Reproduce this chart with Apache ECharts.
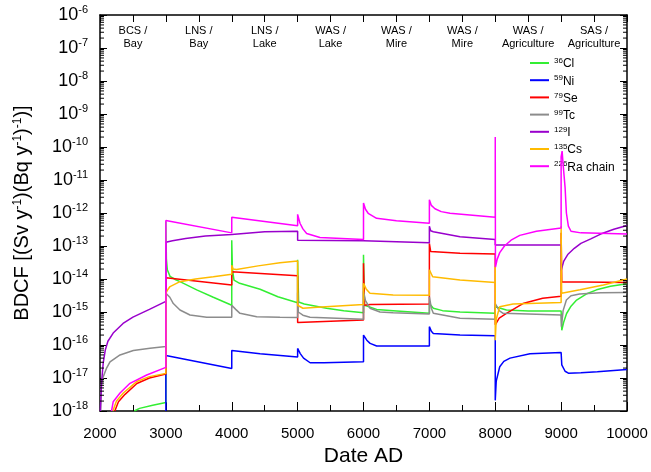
<!DOCTYPE html>
<html>
<head>
<meta charset="utf-8">
<script src="https://cdn.jsdelivr.net/npm/echarts@6/dist/echarts.min.js"></script>
<style>
  html, body { margin: 0; padding: 0; background: #fff; }
  #chart { width: 651px; height: 472px; }
</style>
</head>
<body>
<div id="chart"></div>
<script>
// Axis ranges and labels
const xMin = 2000, xMax = 10000;
const yMin = 1e-18, yMax = 1e-6;
const zoneLabels = ['BCS /\nBay', 'LNS /\nBay', 'LNS /\nLake', 'WAS /\nLake',
                    'WAS /\nMire', 'WAS /\nMire', 'WAS /\nAgriculture', 'SAS /\nAgriculture'];
const massNumbers = ['36', '59', '79', '99', '129', '135', '226'];
const elementNames = ['Cl', 'Ni', 'Se', 'Tc', 'I', 'Cs', 'Ra chain'];
const lineColors = ['#33ee33', '#0000ff', '#ff0000', '#8c8c8c', '#9900cc', '#ffbb00', '#ff00ff'];

// BDCF [(Sv/y)/(Bq/y)] against date AD, one array per nuclide
const cl36 = [
  [2520, 1.0e-18], [2600, 1.2e-18], [2800, 1.5e-18], [3000, 1.8e-18],
  [3000, 5.5e-13], [3008, 4.0e-14], [3022, 1.9e-14], [3063, 1.2e-14], [3150, 9.5e-15], [3214, 8.3e-15], [3468, 4.7e-15], [3720, 2.8e-15], [4000, 1.6e-15],
  [4000, 1.5e-13], [4010, 2.0e-14], [4034, 9.3e-15], [4120, 7.4e-15], [4430, 4.9e-15], [4700, 2.9e-15], [5000, 1.9e-15],
  [5000, 3.8e-14], [5015, 2.0e-15], [5100, 1.75e-15], [5440, 1.3e-15], [5700, 1.1e-15], [6000, 9.5e-16],
  [6000, 5.4e-14], [6015, 1.6e-15], [6040, 1.4e-15], [6200, 1.2e-15], [6450, 1.1e-15], [7000, 9.1e-16],
  [7000, 1.8e-15], [7060, 1.3e-15], [7200, 1.1e-15], [7465, 1.0e-15], [8000, 9.1e-16],
  [8000, 1.45e-15], [8170, 1.15e-15], [8500, 1.08e-15], [9000, 1.07e-15],
  [9010, 2.8e-16], [9040, 5.0e-16], [9083, 9.0e-16], [9150, 1.5e-15], [9235, 2.3e-15], [9380, 3.5e-15], [9538, 4.7e-15], [9750, 6.0e-15], [10000, 7.2e-15]
];
const ni59 = [
  [3000, 1.0e-18], [3000, 4.8e-17], [4000, 1.95e-17],
  [4000, 6.8e-17], [4430, 5.4e-17], [5000, 4.3e-17],
  [5000, 7.9e-17], [5040, 5.5e-17], [5090, 4.0e-17], [5190, 2.9e-17], [5400, 2.9e-17], [6000, 3.1e-17],
  [6000, 2.0e-16], [6050, 1.4e-16], [6100, 1.12e-16], [6200, 9.3e-17], [7000, 9.3e-17],
  [7000, 3.6e-16], [7030, 2.6e-16], [7060, 2.24e-16], [7465, 2.0e-16], [8000, 1.9e-16],
  [8000, 2.1e-18], [8015, 8.0e-18], [8068, 2.2e-17], [8130, 3.2e-17], [8224, 4.0e-17], [8527, 5.4e-17], [9000, 5.9e-17],
  [9010, 2.5e-17], [9060, 1.6e-17], [9110, 1.4e-17], [9300, 1.45e-17], [9550, 1.55e-17], [10000, 1.8e-17]
];
const se79 = [
  [2225, 1.0e-18], [2280, 1.9e-18], [2380, 3.2e-18], [2560, 6.8e-18], [2750, 1.0e-17], [3000, 1.32e-17],
  [3000, 1.1e-14], [4000, 6.6e-15],
  [4000, 1.66e-14], [5000, 1.26e-14],
  [5000, 4.8e-16], [6000, 5.75e-16],
  [6000, 3.0e-14], [6015, 1.6e-15], [6100, 1.7e-15], [7000, 1.74e-15],
  [7000, 1.2e-13], [7020, 6.8e-14], [7465, 6.0e-14], [8000, 5.75e-14],
  [8000, 4.1e-16], [8060, 6.5e-16], [8170, 9.1e-16], [8420, 1.8e-15], [8720, 2.6e-15], [9000, 3.0e-15],
  [9000, 2.5e-13], [9010, 8.3e-15], [10000, 7.8e-15]
];
const tc99 = [
  [2010, 1.0e-18], [2020, 6.0e-18], [2030, 8.0e-18], [2050, 1.1e-17], [2100, 2.0e-17], [2152, 3.1e-17], [2304, 5.0e-17], [2506, 6.8e-17], [2759, 8.0e-17], [3000, 9.0e-17],
  [3000, 3.7e-15], [3060, 2.8e-15], [3113, 1.8e-15], [3214, 1.15e-15], [3366, 8.1e-16], [3620, 6.9e-16], [4000, 6.9e-16],
  [4000, 1.6e-15], [4060, 1.2e-15], [4125, 9.1e-16], [4379, 7.2e-16], [4732, 6.9e-16], [5000, 6.8e-16],
  [5000, 3.8e-15], [5010, 1.0e-15], [5080, 8.0e-16], [5188, 6.9e-16], [6000, 6.0e-16],
  [6000, 4.2e-15], [6030, 2.2e-15], [6098, 1.3e-15], [6250, 1.0e-15], [6450, 9.5e-16], [7000, 8.7e-16],
  [7000, 2.9e-15], [7030, 1.3e-15], [7060, 9.1e-16], [7465, 6.5e-16], [8000, 6.0e-16],
  [8000, 1.8e-15], [8060, 1.1e-15], [8120, 9.1e-16], [9000, 8.1e-16],
  [9005, 3.6e-16], [9030, 1.1e-15], [9080, 2.3e-15], [9150, 3.1e-15], [9280, 3.5e-15], [9600, 3.8e-15], [10000, 3.9e-15]
];
const i129 = [
  [2005, 1.0e-18], [2025, 8.0e-18], [2050, 3.0e-17], [2080, 7.0e-17], [2120, 1.3e-16], [2200, 2.3e-16], [2350, 4.5e-16], [2500, 7.0e-16], [2750, 1.2e-15], [3000, 2.1e-15],
  [3000, 1.3e-13], [3100, 1.45e-13], [3300, 1.7e-13], [3600, 2.0e-13], [4000, 2.24e-13],
  [4500, 2.7e-13], [5000, 2.8e-13],
  [5000, 1.5e-13], [6000, 1.45e-13],
  [7000, 1.26e-13],
  [7000, 4.0e-13], [7020, 2.9e-13], [7060, 2.7e-13], [7465, 1.9e-13], [8000, 1.58e-13],
  [8000, 1.07e-13], [9000, 1.07e-13],
  [9000, 1.8e-14], [9040, 3.5e-14], [9100, 5.5e-14], [9200, 8.5e-14], [9300, 1.2e-13], [9450, 1.65e-13], [9600, 2.3e-13], [9800, 3.2e-13], [10000, 4.2e-13]
];
const cs135 = [
  [2195, 1.0e-18], [2250, 2.0e-18], [2354, 3.5e-18], [2557, 7.8e-18], [2750, 1.1e-17], [3000, 1.38e-17],
  [3000, 3.7e-15], [3030, 4.8e-15], [3063, 5.9e-15], [3214, 8.3e-15], [3450, 1.0e-14], [3720, 1.17e-14], [4000, 1.4e-14],
  [4000, 2.6e-14], [4020, 2.0e-14], [4073, 1.95e-14], [4400, 2.5e-14], [4732, 3.1e-14], [5000, 3.5e-14],
  [5000, 1.6e-15], [5080, 1.3e-15], [5300, 1.4e-15], [6000, 1.7e-15],
  [6000, 7.4e-15], [6040, 5.0e-15], [6098, 3.7e-15], [6450, 3.3e-15], [7000, 3.2e-15],
  [7000, 1.9e-14], [7050, 1.17e-14], [7465, 9.3e-15], [8000, 7.9e-15],
  [8000, 2.5e-14], [8000, 1.4e-16], [8015, 6.0e-16], [8068, 1.45e-15], [8270, 1.75e-15], [9000, 1.95e-15],
  [9000, 4.0e-13], [9008, 3.7e-15], [9287, 4.7e-15], [9641, 6.6e-15], [10000, 1.0e-14]
];
const ra226 = [
  [2175, 1.0e-18], [2200, 1.9e-18], [2304, 3.5e-18], [2455, 6.9e-18], [2709, 1.23e-17], [3000, 2.1e-17],
  [3000, 5.9e-13], [4000, 2.5e-13],
  [4000, 7.4e-13], [5000, 4.1e-13],
  [5000, 9.1e-13], [5036, 4.9e-13], [5080, 3.3e-13], [5137, 2.4e-13], [5339, 1.8e-13], [6000, 1.58e-13],
  [6000, 2.0e-12], [6030, 1.3e-12], [6071, 9.8e-13], [6199, 6.9e-13], [6500, 5.8e-13], [7000, 4.9e-13],
  [7000, 2.5e-12], [7030, 1.7e-12], [7085, 1.35e-12], [7180, 1.1e-12], [7313, 9.8e-13], [8000, 7.4e-13],
  [8000, 2.0e-10], [8003, 2.3e-14], [8030, 4.0e-14], [8068, 6.3e-14], [8140, 1.0e-13], [8240, 1.5e-13], [8372, 2.1e-13], [8625, 2.8e-13], [9000, 3.5e-13],
  [9000, 5.0e-11], [9015, 7.5e-11], [9030, 3.0e-11], [9060, 6.0e-12], [9080, 1.0e-12], [9110, 4.0e-13], [9150, 2.8e-13], [9300, 2.5e-13], [10000, 2.3e-13]
];
const nuclideData = [cl36, ni59, se79, tc99, i129, cs135, ra226];

const FONT = '"Liberation Sans", Arial, Helvetica, sans-serif';
const names = massNumbers.map((m, i) => m + elementNames[i]);

// Log-decade minor tick values (2..9 x 10^n) for the framed left/right axes
const minorTickValues = [];
for (let e = -18; e < -6; e++) {
  for (let k = 2; k <= 9; k++) minorTickValues.push([xMin, k * Math.pow(10, e)]);
}

const lineSeries = nuclideData.map((d, i) => ({
  name: names[i],
  type: 'line',
  data: d,
  showSymbol: false,
  symbol: 'none',
  clip: true,
  color: lineColors[i],
  lineStyle: { width: 1.5, color: lineColors[i] },
  emphasis: { disabled: true },
  z: 2 + i
}));

const logAxisBase = {
  type: 'log', logBase: 10,
  min: yMin, max: yMax, interval: 1,
  axisLine: { show: true, onZero: false, lineStyle: { color: '#000', width: 1.5 } },
  axisTick: { show: true, inside: true, length: 7, lineStyle: { color: '#000', width: 1 } },
  splitLine: { show: false }
};

const chart = echarts.init(document.getElementById('chart'), null, { renderer: 'canvas' });
chart.setOption({
  animation: false,
  backgroundColor: '#fff',
  grid: { left: 100, right: 24, top: 15, bottom: 60, containLabel: false },
  legend: {
    orient: 'vertical',
    left: 525,
    top: 52,
    itemWidth: 19,
    itemHeight: 2,
    itemGap: 4.2,
    icon: 'rect',
    data: names,
    selectedMode: false,
    formatter: function (name) {
      const i = names.indexOf(name);
      return '{s|' + massNumbers[i] + '}{m|' + elementNames[i] + '}';
    },
    textStyle: {
      rich: {
        s: { fontFamily: FONT, fontSize: 8, color: '#000', lineHeight: 9, padding: [0, 0, 5, 0], verticalAlign: 'bottom' },
        m: { fontFamily: FONT, fontSize: 12, color: '#000', lineHeight: 14, verticalAlign: 'bottom' }
      }
    }
  },
  xAxis: [
    {
      type: 'value',
      min: xMin, max: xMax, interval: 1000,
      position: 'bottom',
      name: 'Date AD',
      nameLocation: 'middle',
      nameGap: 35,
      nameTextStyle: { fontFamily: FONT, fontSize: 21, color: '#000' },
      axisLine: { show: true, onZero: false, lineStyle: { color: '#000', width: 1.5 } },
      axisTick: { show: true, inside: true, length: 9, lineStyle: { color: '#000', width: 1 } },
      minorTick: { show: true, splitNumber: 2, length: 6, lineStyle: { color: '#000', width: 1 } },
      axisLabel: {
        fontFamily: FONT, fontSize: 15, color: '#000', margin: 15,
        formatter: function (v) { return String(v); }
      },
      splitLine: { show: false }
    },
    {
      type: 'value',
      min: xMin, max: xMax, interval: 500,
      position: 'top',
      axisLine: { show: true, onZero: false, lineStyle: { color: '#000', width: 1.5 } },
      axisTick: { show: true, inside: true, length: 7, lineStyle: { color: '#000', width: 1 } },
      axisLabel: {
        inside: true,
        margin: 9,
        fontFamily: FONT, fontSize: 11, lineHeight: 13, color: '#000',
        formatter: function (v) {
          return v % 1000 === 500 ? zoneLabels[(v - 2500) / 1000] : '';
        }
      },
      splitLine: { show: false }
    }
  ],
  yAxis: [
    Object.assign({}, logAxisBase, {
      position: 'left',
      name: '{m|BDCF [(Sv y}{s|-1}{m|)(Bq y}{s|-1}{m|)}{s|-1}{m|)]}',
      nameLocation: 'middle',
      nameGap: 68,
      nameRotate: 90,
      nameTextStyle: {
        rich: {
          m: { fontFamily: FONT, fontSize: 20, color: '#000', lineHeight: 22, verticalAlign: 'bottom' },
          s: { fontFamily: FONT, fontSize: 12, color: '#000', lineHeight: 12, padding: [0, 0, 8, 0], verticalAlign: 'bottom' }
        }
      },
      axisLabel: {
        margin: 12,
        formatter: function (v) {
          return '{b|10}{s|' + Math.round(Math.log10(v)) + '}';
        },
        rich: {
          b: { fontFamily: FONT, fontSize: 18, color: '#000', lineHeight: 18, verticalAlign: 'bottom' },
          s: { fontFamily: FONT, fontSize: 11, color: '#000', lineHeight: 11, padding: [0, 0, 9, 0], verticalAlign: 'bottom' }
        }
      }
    }),
    Object.assign({}, logAxisBase, {
      position: 'right',
      axisLabel: { show: false }
    })
  ],
  series: lineSeries.concat([{
    type: 'custom',
    name: 'minor ticks',
    silent: true,
    clip: false,
    xAxisIndex: 0,
    yAxisIndex: 0,
    data: minorTickValues,
    encode: { x: 0, y: 1 },
    z: 20,
    renderItem: function (params, api) {
      const v = api.value(1);
      const l = api.coord([xMin, v]);
      const r = api.coord([xMax, v]);
      const len = 4;
      return {
        type: 'group',
        children: [
          { type: 'line', shape: { x1: l[0], y1: l[1], x2: l[0] + len, y2: l[1] }, style: { stroke: '#000', lineWidth: 1 } },
          { type: 'line', shape: { x1: r[0], y1: r[1], x2: r[0] - len, y2: r[1] }, style: { stroke: '#000', lineWidth: 1 } }
        ]
      };
    }
  }])
});
</script>
</body>
</html>
